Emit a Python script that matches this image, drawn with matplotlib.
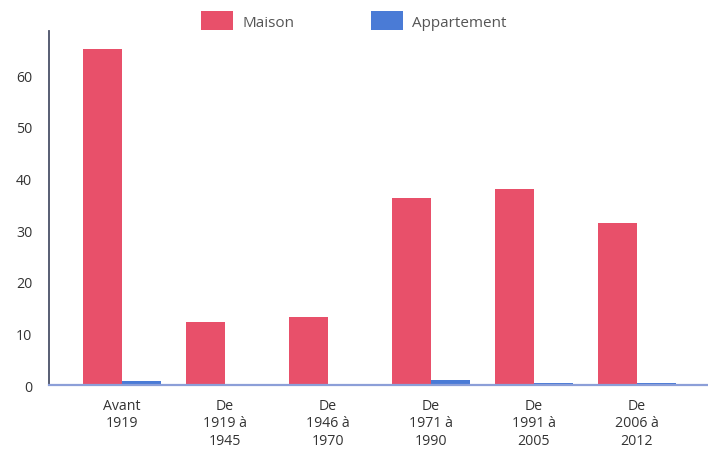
import matplotlib
matplotlib.use("Agg")
import matplotlib.pyplot as plt
import numpy as np
from matplotlib.patches import Patch

categories = ["Avant\n1919", "De\n1919 à\n1945", "De\n1946 à\n1970",
              "De\n1971 à\n1990", "De\n1991 à\n2005", "De\n2006 à\n2012"]
maison = [65.0, 12.2, 13.1, 36.2, 38.0, 31.3]
appartement = [0.8, 0.2, 0.2, 1.0, 0.3, 0.3]
yticks = [0, 10, 20, 30, 40, 50, 60]

red = "#E8506A"
blue = "#4A7BD6"
text_col = "#333333"

plt.rcParams["font.family"] = ["Open Sans", "DejaVu Sans"]

fig = plt.figure(figsize=(7.08, 4.52), dpi=100)
ax = fig.add_axes([0.069, 0.146, 0.931, 0.783])

x = np.arange(len(categories))
w = 0.38
ax.bar(x - w / 2, maison, width=w, color=red, zorder=3)
ax.bar(x + w / 2, appartement, width=w, color=blue, zorder=3)

ax.set_xlim(-0.71, 5.69)
ax.set_ylim(0, 68.5)
ax.set_yticks(yticks)
ax.set_xticks(x)
ax.set_xticklabels(categories, fontsize=10.2, color=text_col, linespacing=1.25)
ax.tick_params(axis="y", labelsize=10.2, labelcolor=text_col, length=0, pad=12)
ax.tick_params(axis="x", length=0, pad=9)

for s in ("top", "right"):
    ax.spines[s].set_visible(False)
ax.spines["left"].set_color("#4a5068")
ax.spines["left"].set_linewidth(1.3)
ax.spines["bottom"].set_color("#8c9fd8")
ax.spines["bottom"].set_linewidth(1.6)
ax.spines["bottom"].set_zorder(4)

handles = [Patch(facecolor=red, label="Maison"),
           Patch(facecolor=blue, label="Appartement")]
fig.legend(handles=handles, loc="upper left", bbox_to_anchor=(0.265, 1.003),
           ncol=2, frameon=False, fontsize=11, handlelength=2.1,
           handleheight=1.45, columnspacing=5.0, handletextpad=0.6,
           labelcolor="#555555")

fig.savefig("out.png", dpi=100)
